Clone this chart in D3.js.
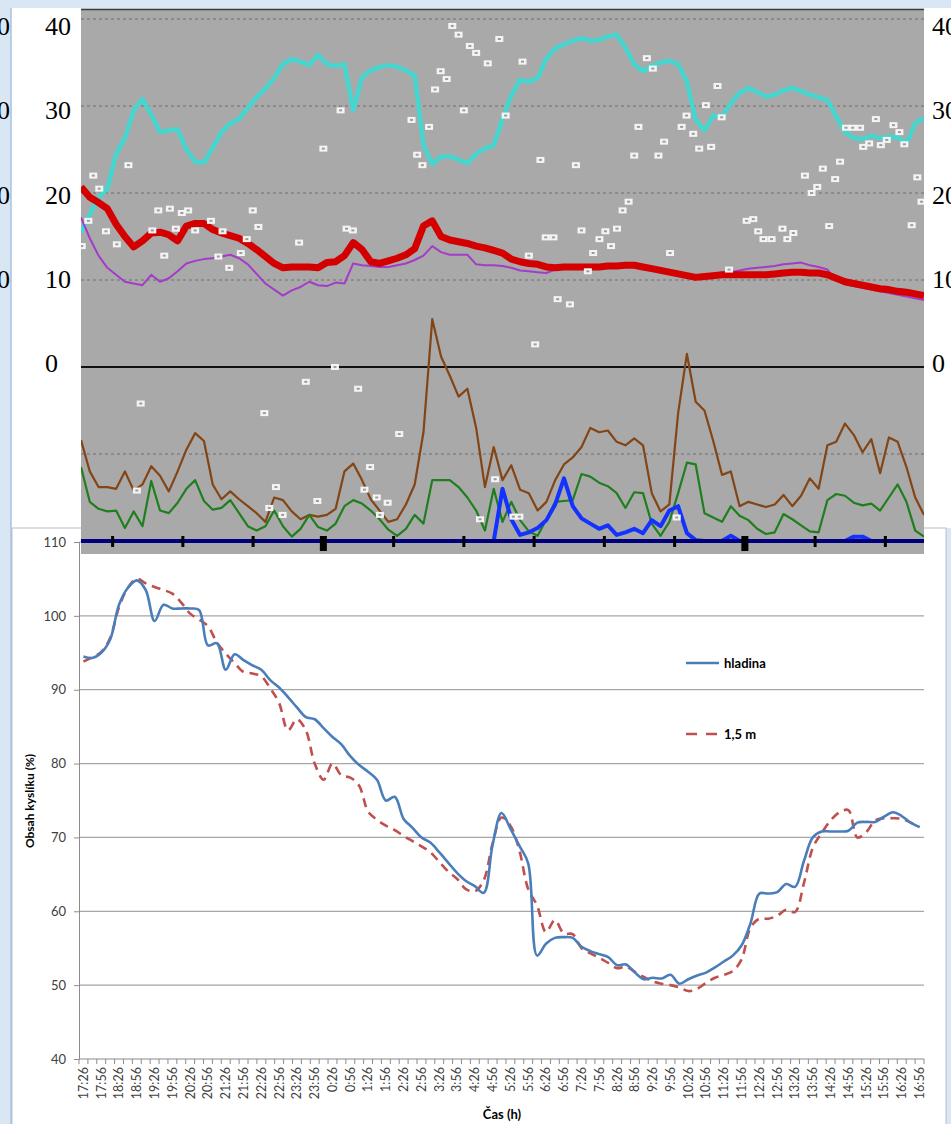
<!DOCTYPE html>
<html>
<head>
<meta charset="utf-8">
<script src="https://cdn.jsdelivr.net/npm/d3@7"></script>
<style>
  body { margin: 0; background: #d9e6f3; }
  svg { display: block; }
</style>
</head>
<body>
<svg id="chart" width="951" height="1124"></svg>
<script>
// ---------- upper panel (meteo screenshot), one value every 15 min ----------
const stepHours = 0.25;

const cyanLine = [
  15.5, 17.5, 19.5, 20.5, 24.5, 26.3, 29.5, 30.8, 29.0, 27.0,
  27.2, 27.3, 25.0, 23.6, 23.5, 25.2, 27.0, 28.0, 28.5, 29.8,
  31.0, 32.0, 33.2, 34.8, 35.4, 35.1, 34.7, 35.9, 34.8, 34.6,
  34.8, 29.5, 33.3, 34.1, 34.5, 34.7, 34.5, 34.1, 33.5, 25.5,
  23.3, 24.2, 24.2, 23.8, 23.4, 24.5, 25.1, 25.5, 28.5, 31.2,
  33.0, 32.8, 33.2, 35.5, 36.6, 37.1, 37.5, 37.8, 37.5, 37.6,
  38.0, 38.2, 36.7, 34.8, 34.0, 34.6, 35.0, 35.2, 34.8, 32.8,
  28.4, 27.2, 28.9, 28.8, 30.3, 31.5, 32.1, 31.6, 31.1, 31.3,
  31.8, 32.1, 31.7, 31.3, 31.0, 30.7, 28.8, 27.0, 26.3, 26.2,
  26.6, 26.3, 26.5, 26.4, 25.7, 28.0, 28.6
];

const redLine = [
  20.7, 19.5, 18.9, 18.2, 16.4, 15.0, 13.8, 14.5, 15.4, 15.5,
  15.2, 14.5, 16.2, 16.5, 16.5, 15.8, 15.4, 15.1, 14.8, 14.2,
  13.5, 12.7, 11.9, 11.4, 11.5, 11.5, 11.5, 11.4, 12.0, 12.1,
  12.8, 14.3, 13.5, 12.1, 11.9, 12.2, 12.5, 12.9, 13.6, 16.2,
  16.8, 15.0, 14.6, 14.4, 14.2, 13.9, 13.7, 13.4, 13.1, 12.4,
  12.1, 11.9, 11.8, 11.5, 11.4, 11.5, 11.5, 11.5, 11.5, 11.5,
  11.6, 11.6, 11.7, 11.7, 11.5, 11.3, 11.1, 10.9, 10.7, 10.5,
  10.3, 10.4, 10.5, 10.6, 10.6, 10.6, 10.6, 10.6, 10.6, 10.7,
  10.8, 10.9, 10.9, 10.8, 10.8, 10.6, 10.2, 9.8, 9.6, 9.4,
  9.2, 9.0, 8.9, 8.7, 8.6, 8.4, 8.2
];

const purpleLine = [
  17.2, 14.8, 12.8, 11.4, 10.6, 9.8, 9.6, 9.4, 10.6, 9.8,
  10.2, 11.0, 11.9, 12.2, 12.4, 12.5, 12.7, 12.9, 12.5, 11.8,
  10.7, 9.6, 8.9, 8.2, 8.8, 9.2, 9.8, 9.4, 9.3, 9.7,
  9.6, 11.9, 11.7, 11.6, 11.5, 11.5, 11.7, 11.9, 12.3, 12.8,
  13.9, 13.2, 12.9, 12.9, 12.9, 11.8, 11.7, 11.7, 11.6, 11.4,
  11.1, 11.0, 10.9, 10.8, 11.2, 11.3, 11.3, 11.3, 11.3, 11.3,
  11.4, 11.4, 11.5, 11.5, 11.3, 11.1, 10.9, 10.7, 10.5, 10.4,
  10.3, 10.4, 10.6, 10.8, 10.9, 11.1, 11.3, 11.4, 11.5, 11.6,
  11.8, 11.9, 12.0, 11.7, 11.5, 11.2, 10.0, 9.5, 9.3, 9.1,
  8.9, 8.7, 8.5, 8.3, 8.1, 7.9, 7.7
];

const brownLine = [
  -8.4, -12.0, -13.8, -13.8, -14.0, -12.0, -14.2, -13.5, -11.4, -12.5,
  -14.3, -12.0, -9.5, -7.6, -8.5, -13.5, -15.2, -14.3, -15.2, -16.0,
  -16.8, -17.8, -15.0, -15.3, -16.6, -17.5, -17.0, -17.2, -17.0, -16.3,
  -12.0, -11.1, -13.0, -15.2, -16.5, -17.8, -17.5, -15.8, -13.5, -7.5,
  5.5, 1.2, -1.0, -3.4, -2.5, -7.0, -13.8, -9.2, -13.0, -11.3,
  -14.1, -14.5, -16.5, -15.5, -13.0, -11.2, -10.4, -9.2, -7.0, -7.5,
  -7.3, -8.6, -9.0, -8.2, -9.0, -14.5, -16.6, -15.8, -5.3, 1.5,
  -4.0, -5.0, -8.5, -12.4, -12.0, -16.0, -15.5, -15.8, -16.1, -15.8,
  -14.7, -16.0, -14.8, -12.8, -14.0, -9.0, -8.6, -6.5, -7.8, -9.8,
  -8.3, -12.2, -8.1, -8.6, -11.5, -15.0, -17.0
];

const greenLine = [
  -11.5, -15.5, -16.3, -16.6, -16.5, -18.5, -16.6, -18.3, -13.1, -16.5,
  -16.8, -15.6, -14.0, -13.0, -15.4, -16.4, -16.2, -15.3, -16.8, -18.3,
  -18.8, -18.3, -16.5, -18.3, -19.5, -18.6, -17.0, -18.4, -18.8, -18.0,
  -16.0, -15.3, -15.7, -16.5, -17.5, -18.7, -19.4, -18.6, -17.0, -18.0,
  -13.0, -13.0, -13.0, -13.8, -15.0, -16.5, -18.8, -14.0, -17.8, -15.5,
  -17.6, -18.9, -19.4, -17.5, -15.5, -15.4, -15.3, -12.3, -12.6, -13.3,
  -13.7, -14.5, -16.2, -14.4, -14.5, -18.0, -19.4, -17.8, -14.5, -11.0,
  -11.2, -16.8, -17.3, -17.8, -16.0, -17.1, -17.6, -18.6, -19.2, -19.0,
  -16.9, -17.5, -18.2, -18.9, -19.0, -15.3, -14.6, -14.8, -15.6, -15.9,
  -15.7, -16.5, -15.0, -13.5, -15.5, -18.8, -19.5
];

const blueLine = [
  -20, -20, -20, -20, -20, -20, -20, -20, -20, -20,
  -20, -20, -20, -20, -20, -20, -20, -20, -20, -20,
  -20, -20, -20, -20, -20, -20, -20, -20, -20, -20,
  -20, -20, -20, -20, -20, -20, -20, -20, -20, -20,
  -20, -20, -20, -20, -20, -20, -20, -20, -14.0, -17.5,
  -19.3, -19.0, -18.5, -17.6, -15.8, -12.8, -16.0, -17.4, -18.0, -18.6,
  -18.2, -19.3, -19.0, -18.6, -19.1, -17.6, -18.3, -16.5, -16.0, -19.1,
  -19.9, -20, -20, -20, -19.4, -20, -20, -20, -20, -20,
  -20, -20, -20, -20, -20, -20, -20, -20, -19.5, -19.5,
  -20, -20, -20, -20, -20, -20, -20
];

// white point markers (hour from left edge, value)
const markerHours = [
  0.02, 0.21, 0.35, 0.52, 0.71, 1.02, 1.35, 1.59, 1.70, 2.03,
  2.20, 2.37, 2.53, 2.70, 2.87, 3.05, 3.25, 3.70, 3.91, 4.03,
  4.22, 4.55, 4.72, 4.89, 5.05, 5.22, 5.36, 5.55, 5.74, 6.21,
  6.40, 6.73, 6.90, 7.23, 7.39, 7.56, 7.74, 7.89, 8.07, 8.23,
  8.42, 8.51, 8.73, 9.06, 9.41, 9.57, 9.72, 9.91, 10.08, 10.24,
  10.41, 10.57, 10.75, 10.90, 11.07, 11.25, 11.36, 11.58, 11.79, 11.91,
  12.09, 12.31, 12.48, 12.57, 12.75, 12.93, 13.08, 13.23, 13.45, 13.57,
  13.92, 14.09, 14.25, 14.43, 14.58, 14.76, 14.93, 15.09, 15.26, 15.42,
  15.59, 15.75, 15.87, 16.11, 16.28, 16.44, 16.60, 16.77, 16.96, 17.10,
  17.24, 17.43, 17.60, 17.79, 17.94, 18.12, 18.24, 18.45, 18.95, 19.14,
  19.28, 19.43, 19.66, 19.97, 20.11, 20.28, 20.61, 20.80, 20.96, 21.12,
  21.30, 21.47, 21.61, 21.78, 21.97, 22.18, 22.27, 22.44, 22.63, 22.77,
  22.94, 23.13, 23.30, 23.44, 23.65, 23.81, 23.93
];
const markerValues = [
  13.9, 16.8, 22.0, 20.5, 15.6, 14.1, 23.2, -14.2, -4.2, 15.7,
  18.0, 12.8, 18.2, 15.9, 17.7, 18.0, 15.7, 16.8, 12.7, 15.6,
  11.4, 13.1, 14.7, 18.0, 16.1, -5.3, -16.2, -13.8, -17.0, 14.3,
  -1.7, -15.4, 25.1, 0.0, 29.5, 15.9, 15.7, -2.5, -14.1, -11.5,
  -15.0, -17.0, -15.6, -7.7, 28.4, 24.4, 23.2, 27.6, 31.9, 34.0,
  33.1, 39.2, 38.2, 29.5, 36.9, 36.1, -17.5, 34.9, -12.9, 37.7,
  28.9, -17.2, -17.2, 35.1, 12.8, 2.6, 23.8, 14.9, 14.9, 7.8,
  7.2, 23.2, 15.7, 11.0, 13.1, 14.7, 15.6, 13.9, 15.9, 18.0,
  19.0, 24.3, 27.6, 35.5, 34.3, 24.3, 25.9, 13.1, -17.3, 27.6,
  28.9, 26.8, 25.1, 30.1, 25.3, 32.3, 28.7, 11.2, 16.8, 17.0,
  15.6, 14.7, 14.7, 15.9, 14.7, 15.4, 22.0, 20.0, 20.7, 22.8,
  16.2, 21.6, 23.6, 27.5, 27.5, 27.5, 25.3, 25.7, 28.5, 25.5,
  26.1, 27.8, 27.0, 25.6, 16.3, 21.8, 19.0
];

const topGridValues = [40, 30, 20, 10, -10];
const topAxisLabels = [40, 30, 20, 10, 0];
const topTickHours = [0.9, 2.9, 4.9, 6.9, 8.9, 10.9, 12.9, 14.9, 16.9, 18.9, 20.9, 22.9];
const topMajorTicks = [6.9, 18.9];

// ---------- lower panel (Excel chart), one value every 15 min from 17:26 ----------
const timeLabels = [
  '17:26', '17:56', '18:26', '18:56', '19:26', '19:56', '20:26', '20:56',
  '21:26', '21:56', '22:26', '22:56', '23:26', '23:56', '0:26', '0:56',
  '1:26', '1:56', '2:26', '2:56', '3:26', '3:56', '4:26', '4:56',
  '5:26', '5:56', '6:26', '6:56', '7:26', '7:56', '8:26', '8:56',
  '9:26', '9:56', '10:26', '10:56', '11:26', '11:56', '12:26', '12:56',
  '13:26', '13:56', '14:26', '14:56', '15:26', '15:56', '16:26', '16:56'
];

const hladina = [
  94.5, 94.3, 95.0, 96.8, 101.5, 103.8, 104.8, 103.5, 99.3, 101.5,
  101.0, 101.0, 101.0, 100.8, 96.0, 96.3, 92.7, 94.8, 94.0, 93.3,
  92.7, 91.3, 90.3, 89.0, 87.6, 86.3, 86.0, 84.8, 83.6, 82.6,
  81.0, 79.8, 78.9, 77.8, 75.0, 75.5, 72.5, 71.3, 70.0, 69.3,
  68.0, 66.6, 65.2, 64.1, 63.4, 62.5, 69.0, 73.3, 71.2, 68.9,
  66.5, 54.0, 55.6, 56.4, 56.5, 56.4, 55.2, 54.6, 54.2, 53.8,
  52.7, 52.8, 51.7, 50.8, 51.0, 50.9, 51.4, 50.2, 50.8, 51.3,
  51.7, 52.4, 53.2, 54.0, 55.4, 58.4, 62.4, 62.4, 62.6, 63.7,
  63.3, 66.8, 70.0, 70.8, 70.8, 70.8, 70.9, 72.0, 72.1, 72.1,
  72.8, 73.4, 72.9, 72.0, 71.4
];

const hloubka15 = [
  93.8, 94.4, 95.1, 97.0, 101.2, 103.8, 105.0, 104.4, 103.9, 103.5,
  103.0, 101.8, 100.3, 99.5, 98.6, 96.4, 94.9, 93.6, 92.4, 92.2,
  91.8, 90.2, 88.2, 84.5, 86.0, 84.5, 80.0, 77.8, 80.0, 78.4,
  78.1, 77.0, 73.5, 72.4, 71.6, 71.0, 70.2, 69.5, 68.8, 68.0,
  66.7, 65.4, 64.4, 63.0, 62.7, 64.2, 69.2, 72.7, 71.6, 68.3,
  63.0, 60.8, 57.2, 58.8, 57.0, 56.9, 55.0, 54.3, 53.7, 53.0,
  52.3, 52.5, 51.8, 51.1, 50.5, 50.2, 50.0, 49.7, 49.2, 49.5,
  50.3, 51.0, 51.4, 51.9, 53.5, 57.8, 59.0, 59.0, 59.4, 60.2,
  59.9, 63.8, 68.6, 70.6, 72.3, 73.4, 73.7, 70.0, 70.7, 72.3,
  72.6, 72.6, 72.5, 72.0, 71.4
];

const lowerYTicks = [40, 50, 60, 70, 80, 90, 100, 110];
const legendItems = [
  { name: 'hladina', color: '#4a7ebb', dash: null },
  { name: '1,5 m', color: '#c0504d', dash: '11,9' }
];

// ---------- drawing ----------
const svg = d3.select('#chart');
const serif = "'Liberation Serif', 'DejaVu Serif', serif";
const sans = "Lato, 'Open Sans', sans-serif";

svg.append('rect').attr('width', 951).attr('height', 1124).attr('fill', '#d9e6f3');

// axis-label scale of the upper screenshot (its own strip image)
const labelY = d3.scaleLinear().domain([0, 40]).range([372, 35]);

// cut-off labels of a copy at far left
svg.append('g').selectAll('text')
  .data(topAxisLabels.filter(d => d !== 0))
  .join('text')
  .attr('x', 10).attr('y', d => labelY(d))
  .attr('text-anchor', 'end')
  .style('font-family', serif).style('font-size', '26px')
  .text(d => d);

// white strips beside the grey plot
svg.append('rect').attr('x', 11).attr('y', 8).attr('width', 70).attr('height', 520)
  .attr('fill', '#ffffff');
svg.append('line').attr('x1', 11).attr('x2', 11).attr('y1', 8).attr('y2', 1124)
  .attr('stroke', '#a9c2dc').attr('stroke-width', 1.5);
svg.append('rect').attr('x', 924).attr('y', 8).attr('width', 27).attr('height', 520)
  .attr('fill', '#ffffff');

// ---------- lower Excel chart ----------
svg.append('rect').attr('x', 12).attr('y', 528).attr('width', 934).attr('height', 600)
  .attr('fill', '#ffffff').attr('stroke', '#b4c0cc');

const lx = d3.scaleBand().domain(d3.range(hladina.length)).range([79, 924]);
const lxc = i => lx(i) + lx.bandwidth() / 2;
const ly = d3.scaleLinear().domain([40, 110]).range([1059, 542]);

const lower = svg.append('g');

lower.append('g').selectAll('line')
  .data(lowerYTicks.filter(v => v > 40))
  .join('line')
  .attr('x1', 79).attr('x2', 924)
  .attr('y1', d => ly(d)).attr('y2', d => ly(d))
  .attr('stroke', '#a6a6a6').attr('stroke-width', 1.2);

const yAxis = lower.append('g')
  .attr('transform', 'translate(79,0)')
  .call(d3.axisLeft(ly).tickValues(lowerYTicks).tickSize(5).tickPadding(8));
yAxis.select('.domain').attr('stroke', '#8c8c8c');
yAxis.selectAll('.tick line').attr('stroke', '#8c8c8c');
yAxis.selectAll('text').style('font-family', sans).style('font-size', '13px').attr('fill', '#404040');

// x axis with a tick at every category boundary
lower.append('line').attr('x1', 79).attr('x2', 924).attr('y1', ly(40)).attr('y2', ly(40))
  .attr('stroke', '#8c8c8c').attr('stroke-width', 1.2);
lower.append('g').selectAll('line')
  .data(d3.range(hladina.length + 1))
  .join('line')
  .attr('x1', i => (i < hladina.length ? lx(i) : lx.range()[1]))
  .attr('x2', i => (i < hladina.length ? lx(i) : lx.range()[1]))
  .attr('y1', ly(40)).attr('y2', ly(40) + 5)
  .attr('stroke', '#8c8c8c');
lower.append('g').selectAll('text')
  .data(timeLabels)
  .join('text')
  .attr('transform', (d, j) => `translate(${lxc(j * 2)},${ly(40) + 8}) rotate(-90)`)
  .attr('text-anchor', 'end')
  .attr('dy', '0.35em')
  .style('font-family', sans).style('font-size', '12.5px').attr('fill', '#404040')
  .text(d => d);

lower.append('text')
  .attr('transform', 'translate(30,801) rotate(-90)')
  .attr('text-anchor', 'middle').attr('dy', '0.35em')
  .style('font-family', sans).style('font-size', '12px').style('font-weight', 'bold')
  .text('Obsah kyslíku (%)');
lower.append('text')
  .attr('x', 502).attr('y', 1119).attr('text-anchor', 'middle')
  .style('font-family', sans).style('font-size', '13px').style('font-weight', 'bold')
  .text('Čas (h)');

const smoothLine = d3.line()
  .x((d, i) => lxc(i))
  .y(d => ly(d))
  .curve(d3.curveCatmullRom.alpha(0.5));

lower.append('path').datum(hloubka15)
  .attr('d', smoothLine).attr('fill', 'none')
  .attr('stroke', '#c0504d').attr('stroke-width', 2.6).attr('stroke-dasharray', '9,6');
lower.append('path').datum(hladina)
  .attr('d', smoothLine).attr('fill', 'none')
  .attr('stroke', '#4a7ebb').attr('stroke-width', 2.6);

const legend = lower.append('g').selectAll('g')
  .data(legendItems)
  .join('g')
  .attr('transform', (d, i) => `translate(686,${663 + i * 71})`);
legend.append('line')
  .attr('x1', 0).attr('x2', 33)
  .attr('stroke', d => d.color).attr('stroke-width', 2.6)
  .attr('stroke-dasharray', d => d.dash);
legend.append('text')
  .attr('x', 38).attr('dy', '0.35em')
  .style('font-family', sans).style('font-size', '13px').style('font-weight', 'bold')
  .text(d => d.name);

// ---------- upper grey chart (drawn over the top of the Excel panel) ----------
const xTop = d3.scaleLinear().domain([0, 24]).range([81, 924]);
const yTop = d3.scaleLinear().domain([-20, 40]).range([541, 19]);

const upper = svg.append('g');
upper.append('clipPath').attr('id', 'topClip')
  .append('rect').attr('x', 81).attr('y', 9).attr('width', 843).attr('height', 545);

upper.append('rect').attr('x', 81).attr('y', 9).attr('width', 843).attr('height', 545)
  .attr('fill', '#a9a9a9');
upper.append('line').attr('x1', 81).attr('x2', 924).attr('y1', 9.5).attr('y2', 9.5)
  .attr('stroke', '#3c3c3c').attr('stroke-width', 1.5);

upper.append('g').selectAll('line')
  .data(topGridValues)
  .join('line')
  .attr('x1', 81).attr('x2', 924)
  .attr('y1', d => yTop(d)).attr('y2', d => yTop(d))
  .attr('stroke', '#6e6e6e').attr('stroke-dasharray', '3,3');
upper.append('line').attr('x1', 81).attr('x2', 924).attr('y1', yTop(0)).attr('y2', yTop(0))
  .attr('stroke', '#111').attr('stroke-width', 2);

const plot = upper.append('g').attr('clip-path', 'url(#topClip)');
const stepLine = d3.line().x((d, i) => xTop(i * stepHours)).y(d => yTop(d));

const series = [
  { data: cyanLine, color: '#46d6d0', width: 4.5 },
  { data: purpleLine, color: '#a43cc8', width: 2 },
  { data: redLine, color: '#d40000', width: 7 },
  { data: brownLine, color: '#834516', width: 2.2 },
  { data: greenLine, color: '#1f7f1f', width: 2.2 },
  { data: blueLine, color: '#1432ff', width: 4 }
];
plot.selectAll('path.series')
  .data(series)
  .join('path')
  .attr('class', 'series')
  .attr('d', d => stepLine(d.data))
  .attr('fill', 'none')
  .attr('stroke', d => d.color)
  .attr('stroke-width', d => d.width)
  .attr('stroke-linejoin', 'round');

// navy base line and its tick marks
plot.append('line').attr('x1', 81).attr('x2', 924).attr('y1', yTop(-20)).attr('y2', yTop(-20))
  .attr('stroke', '#00007e').attr('stroke-width', 4);
plot.append('g').selectAll('rect')
  .data(topTickHours)
  .join('rect')
  .attr('x', d => xTop(d) - (topMajorTicks.includes(d) ? 3.5 : 1.5))
  .attr('y', d => yTop(-20) - 5)
  .attr('width', d => (topMajorTicks.includes(d) ? 7 : 3))
  .attr('height', d => (topMajorTicks.includes(d) ? 15 : 11))
  .attr('fill', '#000');

// white markers
const marks = plot.append('g').selectAll('g')
  .data(markerHours.map((h, i) => ({ h, v: markerValues[i] })))
  .join('g')
  .attr('transform', d => `translate(${xTop(d.h)},${yTop(d.v)})`);
marks.append('rect').attr('x', -4).attr('y', -3).attr('width', 8).attr('height', 6).attr('fill', '#f4f4f4');
marks.append('rect').attr('x', -1.5).attr('y', -1).attr('width', 3).attr('height', 2).attr('fill', '#9c9c9c');

// serif value labels either side
svg.append('g').selectAll('text')
  .data(topAxisLabels)
  .join('text')
  .attr('x', 45).attr('y', d => labelY(d))
  .style('font-family', serif).style('font-size', '26px')
  .text(d => d);
svg.append('g').selectAll('text')
  .data(topAxisLabels)
  .join('text')
  .attr('x', 932).attr('y', d => labelY(d))
  .style('font-family', serif).style('font-size', '26px')
  .text(d => d);
</script>
</body>
</html>
